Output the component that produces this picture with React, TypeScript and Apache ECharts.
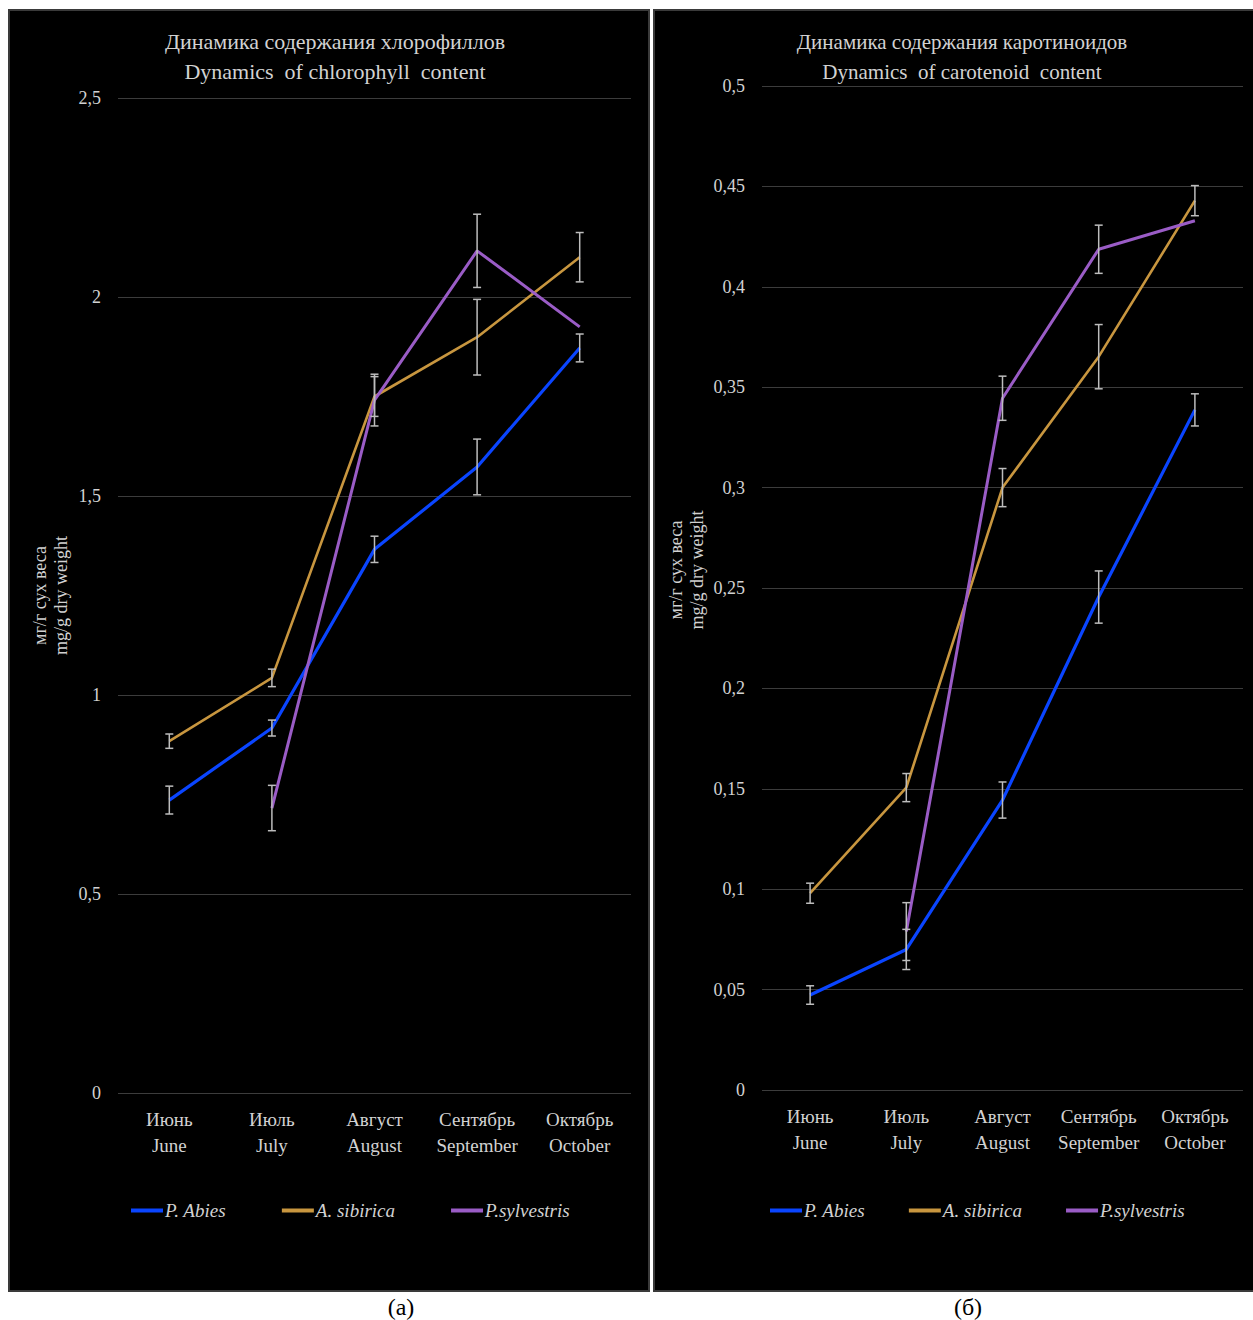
import React, { useEffect, useRef } from "react";
import * as echarts from "echarts";

const months = ["Июнь\nJune", "Июль\nJuly", "Август\nAugust", "Сентябрь\nSeptember", "Октябрь\nOctober"];
const seriesNames = ["P. Abies", "A. sibirica", "P.sylvestris"];
const seriesColors = ["#0a45ff", "#c8963f", "#9a5cc6"];

// Chlorophyll (a)
const chlAbies = [0.736, 0.917, 1.366, 1.573, 1.872];
const chlSibirica = [0.884, 1.043, 1.75, 1.899, 2.1];
const chlSylvestris = [null, 0.716, 1.741, 2.116, 1.925];
const chlAbiesErr = [0.035, 0.02, 0.033, 0.07, 0.035];
const chlSibiricaErr = [0.018, 0.022, 0.05, 0.095, 0.062];
const chlSylvestrisErr = [null, 0.057, 0.065, 0.092, null];
const chlTicks = { min: 0, max: 2.5, interval: 0.5 };

// Carotenoids (б)
const carAbies = [0.0473, 0.07, 0.1444, 0.2455, 0.3387];
const carSibirica = [0.098, 0.1506, 0.3, 0.3652, 0.4429];
const carSylvestris = [null, 0.0789, 0.3445, 0.4187, 0.4329];
const carAbiesErr = [0.0046, 0.01, 0.009, 0.013, 0.008];
const carSibiricaErr = [0.005, 0.007, 0.0095, 0.016, 0.0075];
const carSylvestrisErr = [null, 0.0144, 0.011, 0.012, null];
const carTicks = { min: 0, max: 0.5, interval: 0.05 };

const FONT = "Liberation Serif";
const TEXT = "#d2d2d2";

function errData(vals: (number | null)[], errs: (number | null)[]) {
  const out: number[][] = [];
  vals.forEach((v, i) => {
    const e = errs[i];
    if (v != null && e != null) out.push([i, v - e, v + e]);
  });
  return out;
}

const renderErr = (params: any, api: any) => {
  const x = api.value(0);
  const lo = api.coord([x, api.value(1)]);
  const hi = api.coord([x, api.value(2)]);
  const w = 4;
  const st = { stroke: "#bdbdbd", lineWidth: 1.5 };
  return {
    type: "group",
    children: [
      { type: "line", shape: { x1: lo[0], y1: lo[1], x2: hi[0], y2: hi[1] }, style: st },
      { type: "line", shape: { x1: lo[0] - w, y1: lo[1], x2: lo[0] + w, y2: lo[1] }, style: st },
      { type: "line", shape: { x1: hi[0] - w, y1: hi[1], x2: hi[0] + w, y2: hi[1] }, style: st },
    ],
  };
};

const fmt = (v: number) => String(Number(v.toFixed(2))).replace(".", ",");

export default function App() {
  const ref = useRef<HTMLDivElement>(null);
  useEffect(() => {
    const chart = echarts.init(ref.current!, null, { renderer: "svg" });
    const valsA = [chlAbies, chlSibirica, chlSylvestris];
    const errsA = [chlAbiesErr, chlSibiricaErr, chlSylvestrisErr];
    const valsB = [carAbies, carSibirica, carSylvestris];
    const errsB = [carAbiesErr, carSibiricaErr, carSylvestrisErr];
    const widths = [3.2, 2.6, 3];

    const series: any[] = [];
    [valsA, valsB].forEach((vals, gi) => {
      vals.forEach((v, si) => {
        series.push({
          type: "line",
          name: seriesNames[si],
          xAxisIndex: gi,
          yAxisIndex: gi,
          data: v,
          symbol: "none",
          connectNulls: false,
          lineStyle: { color: seriesColors[si], width: widths[si] },
          itemStyle: { color: seriesColors[si] },
          z: 3 + si,
        });
      });
    });
    [[valsA, errsA], [valsB, errsB]].forEach(([vals, errs]: any, gi) => {
      vals.forEach((v: any, si: number) => {
        series.push({
          type: "custom",
          name: "err" + gi + si,
          xAxisIndex: gi,
          yAxisIndex: gi,
          renderItem: renderErr,
          encode: { x: 0, y: [1, 2] },
          data: errData(v, errs[si]),
          z: 10,
          silent: true,
        });
      });
    });

    const xAxis = (gi: number) => ({
      type: "category",
      gridIndex: gi,
      data: months,
      boundaryGap: true,
      axisLine: { show: false },
      axisTick: { show: false },
      axisLabel: {
        color: TEXT,
        fontFamily: FONT,
        fontSize: 19,
        lineHeight: 26,
        margin: 13,
        interval: 0,
      },
    });
    const yAxis = (gi: number, t: any, gap: number, pad: number[]) => ({
      type: "value",
      gridIndex: gi,
      min: t.min,
      max: t.max,
      interval: t.interval,
      name: "мг/г сух веса\nmg/g dry weight",
      nameLocation: "middle",
      nameRotate: 90,
      nameGap: gap,
      nameTextStyle: { color: TEXT, fontFamily: FONT, fontSize: 18, lineHeight: 21, padding: pad },
      axisLine: { show: false },
      axisTick: { show: false },
      splitLine: { lineStyle: { color: "#3c3c3c", width: 1.2 } },
      axisLabel: { color: TEXT, fontFamily: FONT, fontSize: 18, margin: 17, formatter: fmt },
    });

    const legend = (left: number, gap: number) => ({
      left,
      top: 1196,
      data: seriesNames,
      icon: "rect",
      itemWidth: 32,
      itemHeight: 4,
      itemGap: gap,
      textStyle: { color: TEXT, fontFamily: FONT, fontSize: 19, fontStyle: "italic", padding: [0, 0, 0, -3] },
      selectedMode: false,
    });

    chart.setOption({
      animation: false,
      backgroundColor: "#ffffff",
      title: [
        {
          text: "Динамика содержания хлорофиллов\nDynamics  of chlorophyll  content",
          left: 330,
          top: 21,
          textAlign: "center",
          textStyle: { color: TEXT, fontFamily: FONT, fontSize: 22, fontWeight: "normal", lineHeight: 30 },
        },
        {
          text: "Динамика содержания каротиноидов\nDynamics  of carotenoid  content",
          left: 957,
          top: 22,
          textAlign: "center",
          textStyle: { color: TEXT, fontFamily: FONT, fontSize: 21, fontWeight: "normal", lineHeight: 30 },
        },
      ],
      graphic: [
        {
          type: "rect",
          z: -10,
          shape: { x: 9, y: 10, width: 640, height: 1281 },
          style: { fill: "#000000", stroke: "#3a3a3a", lineWidth: 2 },
          silent: true,
        },
        {
          type: "rect",
          z: -10,
          shape: { x: 654, y: 10, width: 600, height: 1281 },
          style: { fill: "#000000", stroke: "#3a3a3a", lineWidth: 2 },
          silent: true,
        },
        {
          type: "text",
          x: 401,
          y: 1307,
          style: { text: "(a)", fill: "#000", font: `24px '${FONT}'`, textAlign: "center", textVerticalAlign: "middle" },
        },
        {
          type: "text",
          x: 968,
          y: 1307,
          style: { text: "(б)", fill: "#000", font: `24px '${FONT}'`, textAlign: "center", textVerticalAlign: "middle" },
        },
      ],
      legend: [legend(126, 56), legend(765, 44)],
      grid: [
        { left: 118, top: 98, width: 513, height: 995, containLabel: false },
        { left: 762, top: 86, width: 481, height: 1004, containLabel: false },
      ],
      xAxis: [xAxis(0), xAxis(1)],
      yAxis: [yAxis(0, chlTicks, 47, [0, 0, 0, 0]), yAxis(1, carTicks, 55, [0, 0, 0, 36])],
      series,
    });
    return () => chart.dispose();
  }, []);
  return (
    <div
      ref={ref}
      style={{ position: "absolute", left: 0, top: 0, width: 1253, height: 1320, background: "#fff" }}
    />
  );
}
